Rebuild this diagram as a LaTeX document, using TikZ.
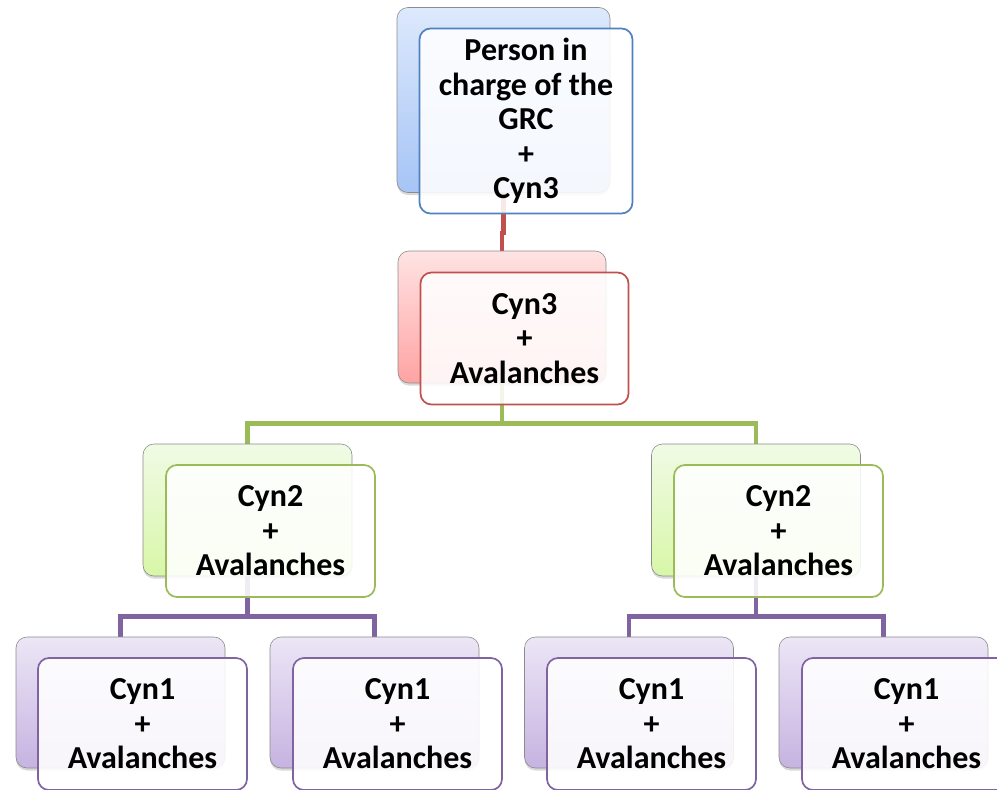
\documentclass[tikz,border=0pt]{standalone}
\usepackage{fontspec}
\setmainfont{Carlito}
\usetikzlibrary{shadows,backgrounds}
\definecolor{bluedk}{HTML}{4F81BD}
\definecolor{reddk}{HTML}{C0504D}
\definecolor{greendk}{HTML}{9BBB59}
\definecolor{purpledk}{HTML}{8064A2}
\definecolor{bluetop}{HTML}{DDE9FC}
\definecolor{bluebot}{HTML}{A6C4F6}
\definecolor{redtop}{HTML}{FFE3E3}
\definecolor{redbot}{HTML}{FFA3A3}
\definecolor{greentop}{HTML}{F0FBE5}
\definecolor{greenbot}{HTML}{D8F7A8}
\definecolor{purpletop}{HTML}{ECE6F6}
\definecolor{purplebot}{HTML}{C6B3E1}
\begin{document}
\begin{tikzpicture}[x=1pt,y=-1pt,
  back/.style={draw=black!45,line width=.6pt,rounded corners=11pt,minimum width=209pt,minimum height=132pt,top color=#1top,bottom color=#1bot,drop shadow={shadow xshift=0pt,shadow yshift=-2.5pt,opacity=.3}},
  front/.style={draw=#1dk,line width=1.7pt,rounded corners=11pt,fill=white,fill opacity=.88,text opacity=1,minimum width=209pt,minimum height=132pt,align=center,font=\bfseries\fontsize{32}{34.5}\selectfont},
  link/.style={draw=#1dk,line width=4.5pt}]%
\clip (0,0) rectangle (997,790);
\node [back=blue,minimum width=213pt,minimum height=185pt] (Gs) at (503.5,100) {};
\node [front=blue,minimum width=213pt,minimum height=185pt] (G) at (526,121) {Person in\\charge of the\\GRC\\+\\Cyn3};
\node [back=red,minimum width=208pt] (C3s) at (502,317) {};
\node [front=red,minimum width=208pt] (C3) at (524.5,338.5) {Cyn3\\+\\Avalanches};
\node [back=green] (C2as) at (247.5,510) {};
\node [front=green] (C2a) at (270.5,531) {Cyn2\\+\\Avalanches};
\node [back=green] (C2bs) at (756,510) {};
\node [front=green] (C2b) at (778.5,531) {Cyn2\\+\\Avalanches};
\node [back=purple,minimum height=131pt] (C1as) at (120.5,702.5) {};
\node [front=purple] (C1a) at (142.5,724) {Cyn1\\+\\Avalanches};
\node [back=purple,minimum height=131pt] (C1bs) at (374.5,702.5) {};
\node [front=purple] (C1b) at (397.5,724) {Cyn1\\+\\Avalanches};
\node [back=purple,minimum height=131pt] (C1cs) at (629,702.5) {};
\node [front=purple] (C1c) at (651.5,724) {Cyn1\\+\\Avalanches};
\node [back=purple,minimum height=131pt] (C1ds) at (883.5,702.5) {};
\node [front=purple] (C1d) at (906.5,724) {Cyn1\\+\\Avalanches};
\begin{scope}[on background layer]
\draw [link=red] (Gs.south) -- ++(0,40) -| (C3s.north);
\draw [link=green] (C3s.south) -- ++(0,40) -| (C2as.north);
\draw [link=green] (C3s.south) -- ++(0,40) -| (C2bs.north);
\draw [link=purple] (C2as.south) -- ++(0,40) -| (C1as.north);
\draw [link=purple] (C2as.south) -- ++(0,40) -| (C1bs.north);
\draw [link=purple] (C2bs.south) -- ++(0,40) -| (C1cs.north);
\draw [link=purple] (C2bs.south) -- ++(0,40) -| (C1ds.north);
\end{scope}
\end{tikzpicture}
\end{document}
